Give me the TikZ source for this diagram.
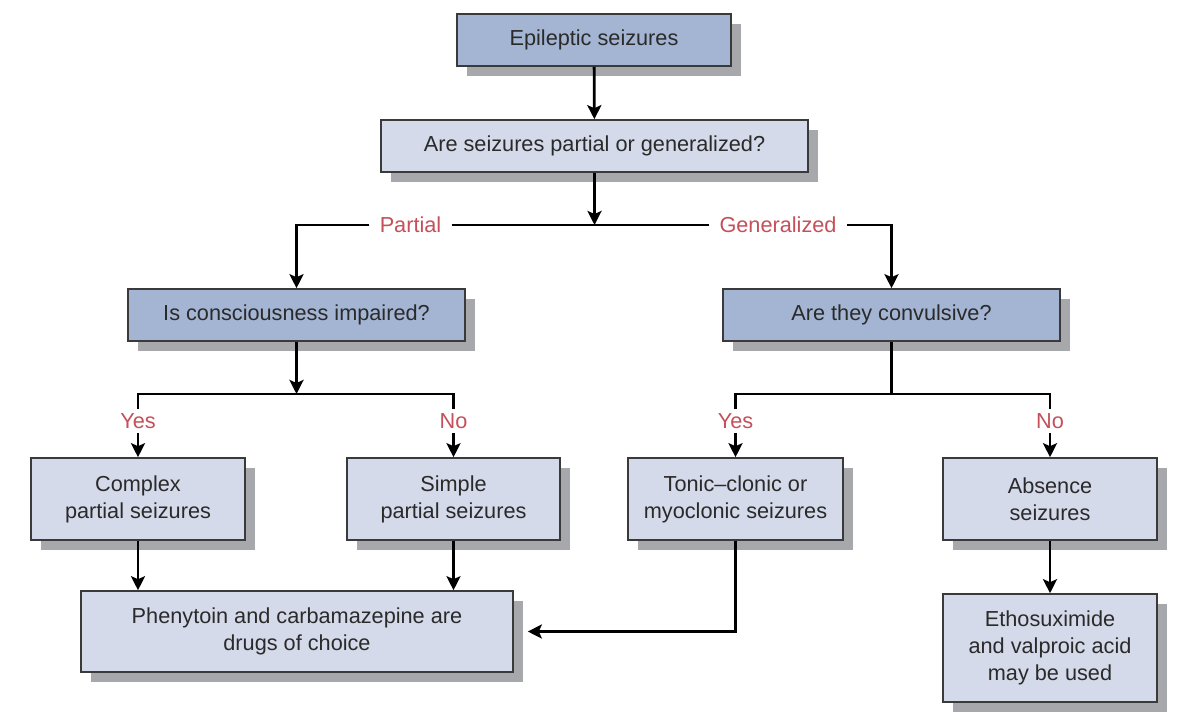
\documentclass[tikz,border=0pt]{standalone}
\usepackage{fontspec}
\setmainfont{Liberation Sans}
\usetikzlibrary{shadows,arrows.meta,calc}
\definecolor{darkbox}{HTML}{A4B4D3}
\definecolor{lightbox}{HTML}{D4DAEA}
\definecolor{shadowc}{HTML}{A7A8AC}
\definecolor{labred}{HTML}{C4505A}
\definecolor{ink}{HTML}{2A2A2A}
\definecolor{edge}{HTML}{3A3A3A}
\begin{document}
\begin{tikzpicture}[x=0.5pt,y=-0.5pt,
 box/.style={draw=edge, line width=0.8pt, text=ink, align=center, inner sep=0pt,
   font=\fontsize{10.85pt}{13.5pt}\selectfont,
   drop shadow={shadow xshift=5pt, shadow yshift=-5pt, fill=shadowc, opacity=1}},
 dbox/.style={box, fill=darkbox},
 lbox/.style={box, fill=lightbox},
 lab/.style={text=labred, font=\fontsize{10.85pt}{13.5pt}\selectfont, inner xsep=5pt, inner ysep=2pt},
 conn/.style={line width=1.4pt, black},
 arr/.style={conn, -{Stealth[length=7pt,width=7pt,inset=1.5pt]}},
]
\useasboundingbox[fill=white] (0,0) rectangle (1192,718);

\node[dbox, minimum width=137pt, minimum height=26pt] (e1) at (594,40) {Epileptic seizures};
\node[lbox, minimum width=213.5pt, minimum height=26pt] (q1) at (594.5,146) {Are seizures partial or generalized?};
\node[dbox, minimum width=168.5pt, minimum height=26pt] (q2) at (296.5,315) {Is consciousness impaired?};
\node[dbox, minimum width=168.5pt, minimum height=26pt] (q3) at (891.5,315) {Are they convulsive?};
\node[lbox, minimum width=107pt, minimum height=41pt] (cps) at (138,499) {Complex\\partial seizures};
\node[lbox, minimum width=106.5pt, minimum height=41pt] (sps) at (453.5,499) {Simple\\partial seizures};
\node[lbox, minimum width=107.5pt, minimum height=41pt] (tcm) at (735.5,499) {Tonic–clonic or\\myoclonic seizures};
\node[lbox, minimum width=107pt, minimum height=41pt] (abs) at (1050,499) {Absence\\seizures};
\node[lbox, minimum width=216pt, minimum height=40.5pt] (phe) at (297,631.5) {Phenytoin and carbamazepine are\\drugs of choice};
\node[lbox, minimum width=107pt, minimum height=54pt] (eth) at (1050,648) {Ethosuximide\\and valproic acid\\may be used};

\node[lab] (pl) at (410.5,225) {Partial};
\node[lab] (gl) at (778,225) {Generalized};
\node[lab] (y1) at (138,421) {Yes};
\node[lab] (n1) at (453.5,421) {No};
\node[lab] (y2) at (735.5,421) {Yes};
\node[lab] (n2) at (1050,421) {No};
\coordinate (j2) at (296.5,394);
\coordinate (j3) at (891.5,394);

\draw[arr] (e1) -- (q1);
\draw[arr] (q1) -- (q1.south |- pl.center);
\draw[arr] (pl.west) -| (q2.north);
\draw[conn] (pl.east) -- (gl.west);
\draw[arr] (gl.east) -| (q3.north);

\draw[arr] (q2) -- (j2);
\draw[conn] (y1.north) |- (j2) -| (n1.north);
\draw[arr] (y1.south) -- (cps.north);
\draw[arr] (n1.south) -- (sps.north);

\draw[conn] (q3) -- (j3);
\draw[conn] (y2.north) |- (j3) -| (n2.north);
\draw[arr] (y2.south) -- (tcm.north);
\draw[arr] (n2.south) -- (abs.north);

\draw[arr] (cps) -- (cps.south |- phe.north);
\draw[arr] (sps) -- (sps.south |- phe.north);
\draw[arr] (tcm.south) |- ([xshift=7pt]phe.east);
\draw[arr] (abs) -- (eth);
\end{tikzpicture}
\end{document}
